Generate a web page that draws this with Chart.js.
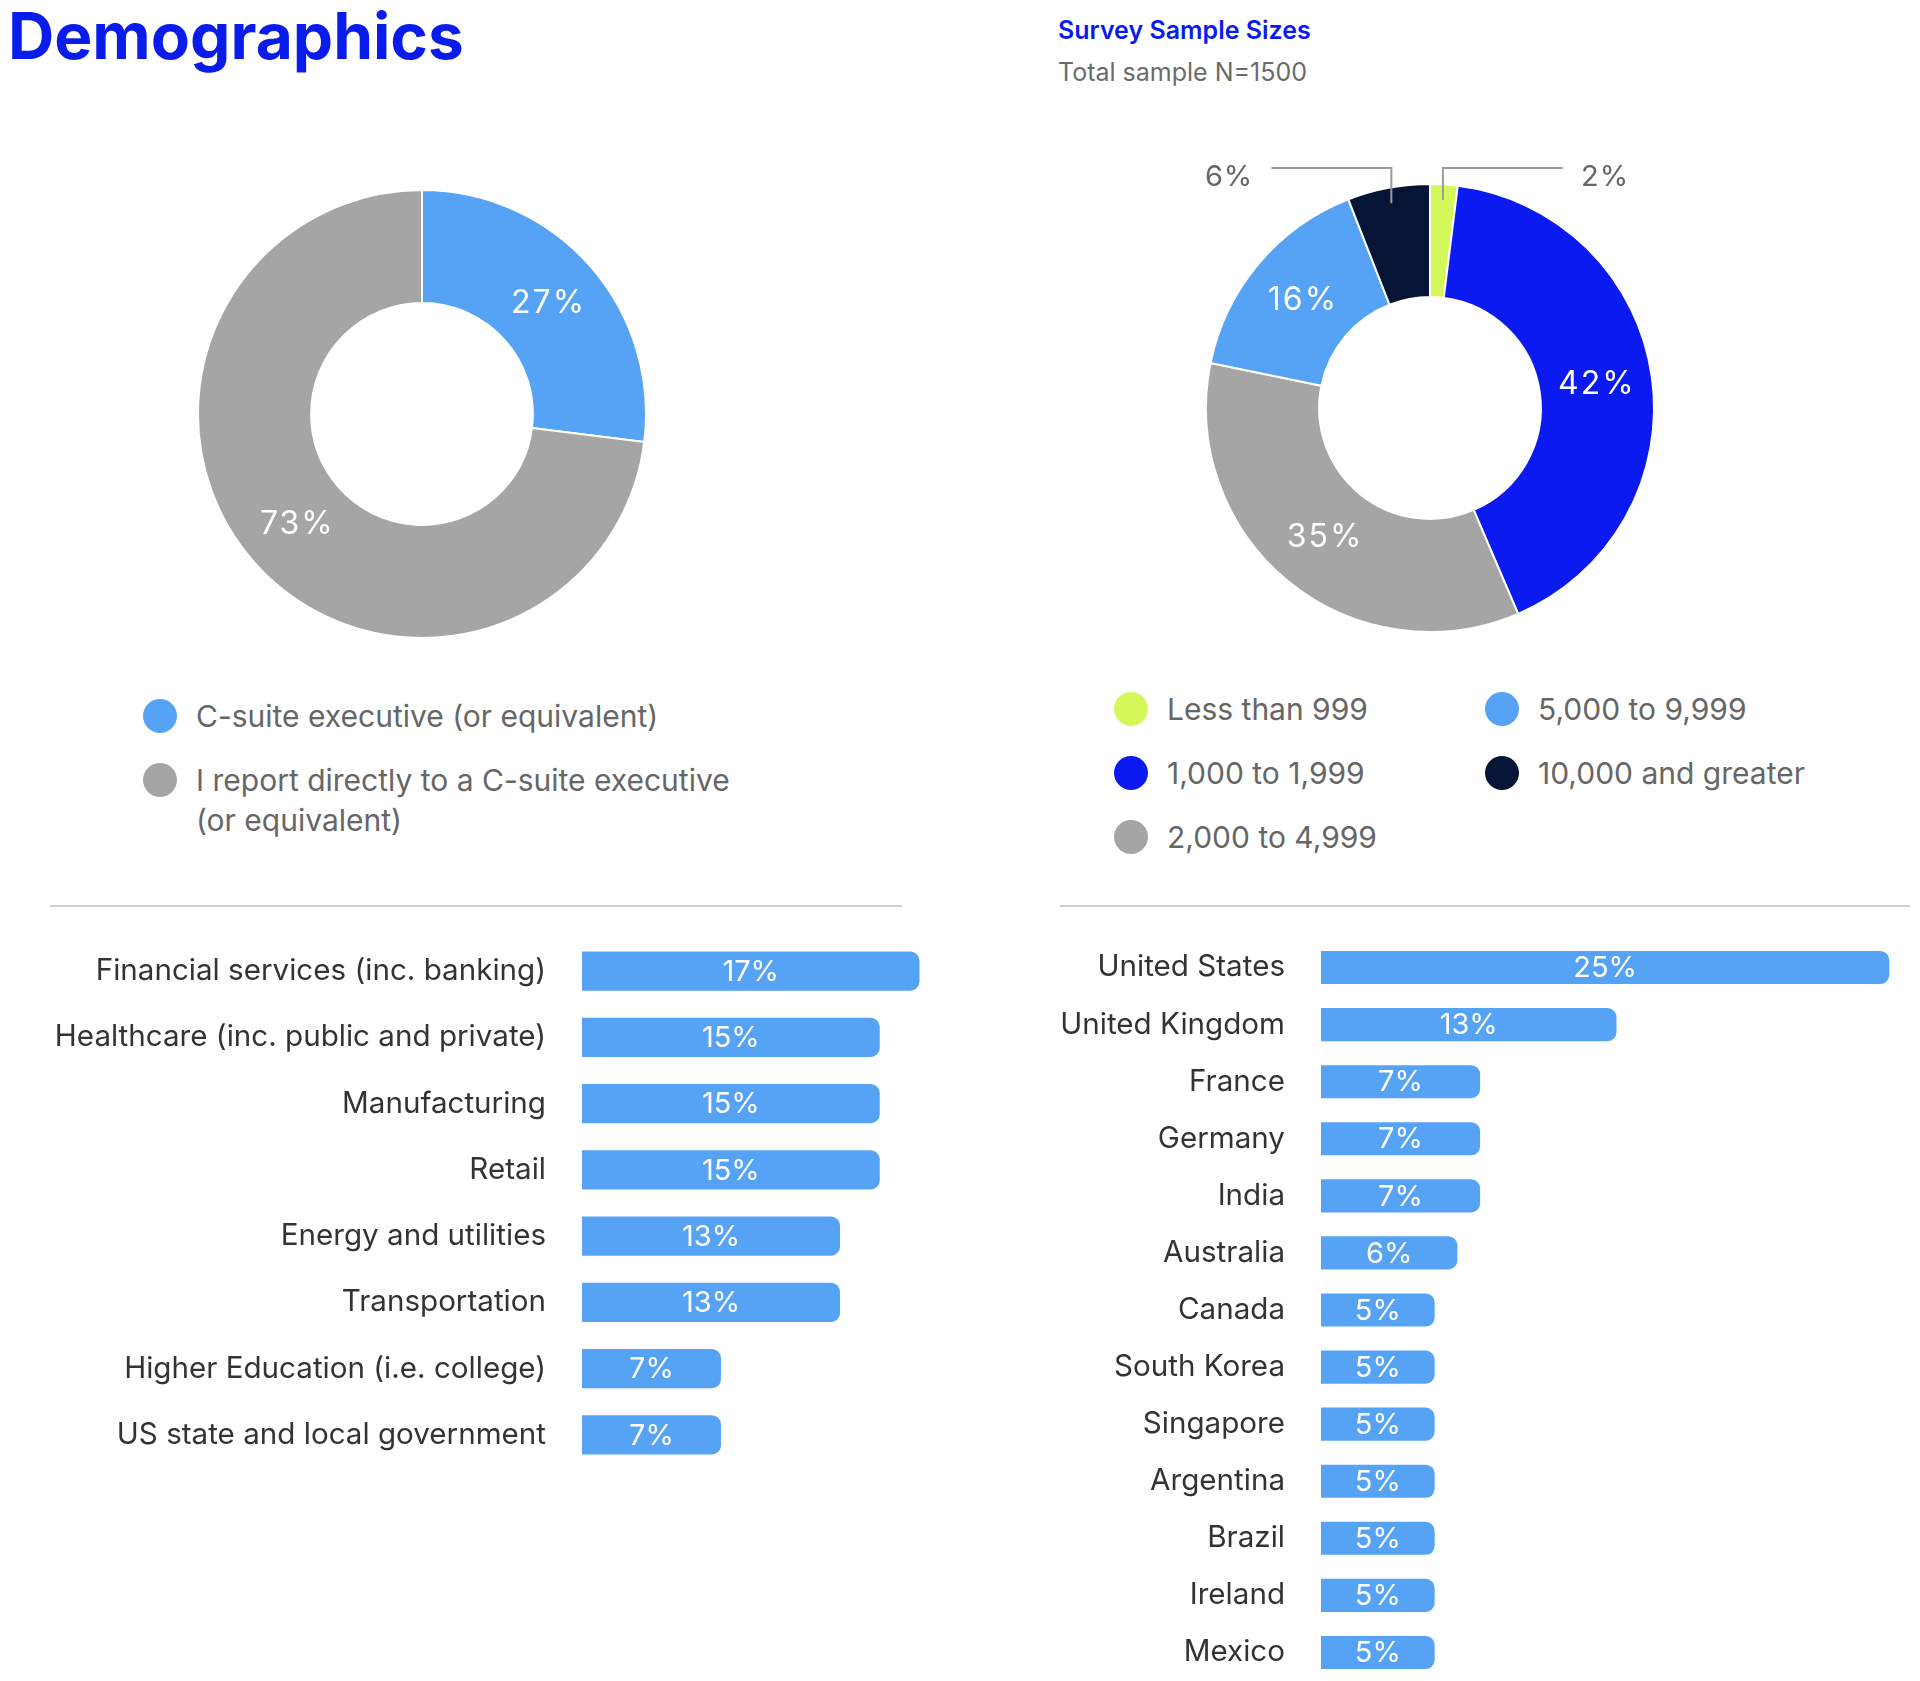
<!DOCTYPE html>
<html>
<head>
<meta charset="utf-8">
<title>Demographics</title>
<script src="https://cdn.jsdelivr.net/npm/chart.js@4.4.1/dist/chart.umd.min.js"></script>
<style>
  body { margin: 0; width: 1920px; height: 1681px; background: #fff; font-family: Inter, sans-serif; position: relative; overflow: hidden; }
  .abs { position: absolute; }
  h1 { position: absolute; left: 8px; top: 4px; margin: 0; font-size: 64px; line-height: 1; font-weight: 700; color: #0a1ceb; }
  .sub1 { left: 1058px; top: 18px; font-size: 25px; line-height: 1; font-weight: 600; color: #0a1ceb; }
  .sub2 { left: 1058px; top: 60px; font-size: 25px; line-height: 1; color: #6b6b6b; }
  .rule { height: 2px; background: #cfcfcf; top: 905px; }
  .legend { font-size: 30px; line-height: 40px; color: #666; }
  .item { display: flex; align-items: flex-start; }
  .dot { width: 34px; height: 34px; border-radius: 50%; margin-top: 3px; margin-right: 19px; flex: none; }
  #roleLegend .item { margin-bottom: 24px; }
  #roleLegend .txt { max-width: 555px; }
  #sizeLegend { display: grid; grid-auto-flow: column; grid-template-rows: repeat(3, 40px); grid-template-columns: 371px auto; row-gap: 24px; }
</style>
</head>
<body>
<h1>Demographics</h1>
<div class="abs sub1">Survey Sample Sizes</div>
<div class="abs sub2">Total sample N=1500</div>

<canvas id="roleChart" class="abs" width="450" height="450" style="left:197px;top:189px"></canvas>
<canvas id="sizeChart" class="abs" width="560" height="510" style="left:1150px;top:130px"></canvas>

<div id="roleLegend" class="abs legend" style="left:143px;top:696px"></div>
<div id="sizeLegend" class="abs legend" style="left:1114px;top:689px"></div>

<div class="abs rule" style="left:50px;width:852px"></div>
<div class="abs rule" style="left:1060px;width:850px"></div>

<canvas id="industryChart" class="abs" width="979" height="530" style="left:0;top:938px"></canvas>
<canvas id="countryChart" class="abs" width="872" height="742" style="left:1040px;top:939px"></canvas>

<script>
// job level
const roleLabels = ["C-suite executive (or equivalent)", "I report directly to a C-suite executive (or equivalent)"];
const roleValues = [27, 73];

// company size (employees)
const sizeLabels = ["Less than 999", "1,000 to 1,999", "2,000 to 4,999", "5,000 to 9,999", "10,000 and greater"];
const sizeValues = [2, 42, 35, 16, 6];

// industry
const industryLabels = [
  "Financial services (inc. banking)",
  "Healthcare (inc. public and private)",
  "Manufacturing",
  "Retail",
  "Energy and utilities",
  "Transportation",
  "Higher Education (i.e. college)",
  "US state and local government"
];
const industryValues = [17, 15, 15, 15, 13, 13, 7, 7];

// country
const countryLabels = [
  "United States", "United Kingdom", "France", "Germany", "India", "Australia",
  "Canada", "South Korea", "Singapore", "Argentina", "Brazil", "Ireland", "Mexico"
];
const countryValues = [25, 13, 7, 7, 7, 6, 5, 5, 5, 5, 5, 5, 5];

const lightBlue = "#56a3f6";
const gray = "#a5a5a5";
const blue = "#0a1af0";
const navy = "#061536";
const lime = "#d4f85a";

const roleColors = [lightBlue, gray];
const sizeColors = [lime, blue, gray, lightBlue, navy];

Chart.defaults.font.family = "Inter, sans-serif";
Chart.defaults.animation = false;

// percent labels on the slices, small slices get a leader line
const sliceLabels = {
  id: "sliceLabels",
  afterDatasetsDraw(chart) {
    const ctx = chart.ctx;
    const values = chart.data.datasets[0].data;
    ctx.save();
    chart.getDatasetMeta(0).data.forEach((arc, i) => {
      const text = values[i] + "%";
      if (values[i] >= 10) {
        const p = arc.tooltipPosition();
        ctx.font = "32px Inter";
        ctx.letterSpacing = "2px";
        ctx.fillStyle = "#fff";
        ctx.textAlign = "center";
        ctx.textBaseline = "middle";
        ctx.fillText(text, p.x + 1, p.y);
      } else {
        const mid = (arc.startAngle + arc.endAngle) / 2;
        const ax = arc.x + Math.cos(mid) * arc.outerRadius * 0.93;
        const ay = arc.y + Math.sin(mid) * arc.outerRadius * 0.93;
        const ly = arc.y - arc.outerRadius - 16;
        const dir = Math.cos(mid) >= 0 ? 1 : -1;
        const ex = ax + dir * 120;
        ctx.strokeStyle = "#9c9c9c";
        ctx.lineWidth = 2;
        ctx.beginPath();
        ctx.moveTo(ax, ay);
        ctx.lineTo(ax, ly);
        ctx.lineTo(ex, ly);
        ctx.stroke();
        ctx.font = "29px Inter";
        ctx.letterSpacing = "1px";
        ctx.fillStyle = "#666";
        ctx.textAlign = dir > 0 ? "left" : "right";
        ctx.textBaseline = "middle";
        ctx.fillText(text, ex + dir * 18, ly + 9);
      }
    });
    ctx.restore();
  }
};

// value in the middle of each bar
const barLabels = {
  id: "barLabels",
  afterDatasetsDraw(chart) {
    const ctx = chart.ctx;
    const values = chart.data.datasets[0].data;
    ctx.save();
    ctx.font = "29px Inter";
    ctx.fillStyle = "#fff";
    ctx.textAlign = "center";
    ctx.textBaseline = "middle";
    chart.getDatasetMeta(0).data.forEach((bar, i) => {
      ctx.fillText(values[i] + "%", (bar.x + bar.base) / 2, bar.y + 1);
    });
    ctx.restore();
  }
};

function donut(id, labels, values, colors, padding) {
  return new Chart(document.getElementById(id), {
    type: "doughnut",
    data: {
      labels: labels,
      datasets: [{
        data: values,
        backgroundColor: colors,
        borderColor: "#fff",
        borderWidth: 2,
        hoverOffset: 0
      }]
    },
    options: {
      responsive: false,
      cutout: "49.5%",
      layout: { padding: padding },
      plugins: { legend: { display: false }, tooltip: { enabled: false } }
    },
    plugins: [sliceLabels]
  });
}

function bars(id, labels, values, axisWidth, max, thickness) {
  return new Chart(document.getElementById(id), {
    type: "bar",
    data: {
      labels: labels,
      datasets: [{
        data: values,
        backgroundColor: lightBlue,
        borderRadius: 9,
        borderSkipped: "start",
        categoryPercentage: 1,
        barPercentage: thickness
      }]
    },
    options: {
      responsive: false,
      indexAxis: "y",
      layout: { padding: 0 },
      scales: {
        x: { display: false, min: 0, max: max },
        y: {
          grid: { display: false, drawTicks: false },
          border: { display: false },
          ticks: { color: "#333", font: { size: 29.6 }, padding: 36 },
          afterFit(scale) {
            scale.width = axisWidth;
            scale.paddingTop = 0;
            scale.paddingBottom = 0;
          }
        }
      },
      plugins: { legend: { display: false }, tooltip: { enabled: false } }
    },
    plugins: [barLabels]
  });
}

donut("roleChart", roleLabels, roleValues, roleColors, 0);
donut("sizeChart", sizeLabels, sizeValues, sizeColors, { left: 55, right: 55, top: 53, bottom: 7 });
bars("industryChart", industryLabels, industryValues, 582, 20, 0.59);
bars("countryChart", countryLabels, countryValues, 281, 26, 0.58);

// html legends built from the same labels and colours
function legend(id, labels, colors) {
  const box = document.getElementById(id);
  labels.forEach((label, i) => {
    const item = document.createElement("div");
    item.className = "item";
    const dot = document.createElement("span");
    dot.className = "dot";
    dot.style.background = colors[i];
    const txt = document.createElement("span");
    txt.className = "txt";
    txt.textContent = label;
    item.appendChild(dot);
    item.appendChild(txt);
    box.appendChild(item);
  });
}
legend("roleLegend", roleLabels, roleColors);
legend("sizeLegend", sizeLabels, sizeColors);
</script>
</body>
</html>
